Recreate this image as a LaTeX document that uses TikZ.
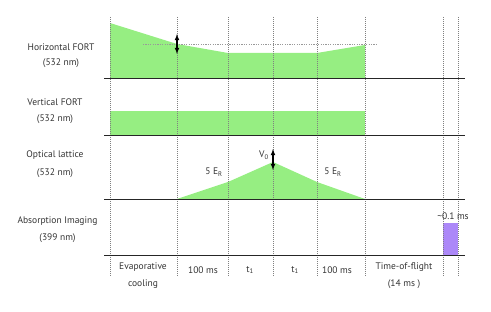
\documentclass[tikz,border=0pt]{standalone}
\usepackage{fontspec}
\setmainfont{PT Sans}
\begin{document}
\begin{tikzpicture}[x=1pt,y=-1pt,
  lbl/.style={inner sep=0pt,text=black!80,font=\fontsize{9.5}{11}\selectfont},
  baseln/.style={draw=black!85,line width=0.8pt},
  tmark/.style={draw=black!50,dash pattern=on 1pt off 1pt,line width=0.6pt},
  fort/.style={fill=fortgreen,draw=none},
  dbl/.style={<->,>=latex,line width=1.1pt,black}]
\definecolor{fortgreen}{RGB}{150,238,130}
\definecolor{imgpurple}{RGB}{172,136,248}
\useasboundingbox (0,0) rectangle (491,312);
% green shapes
\fill[fort] (110,78) -- (110,23) -- (177,44) -- (228,53) -- (317,53) -- (365,45) -- (365,78) -- cycle;
\fill[fort] (110,111) rectangle (365,135);
\fill[fort] (177,199) -- (228,182) -- (273,162) -- (317,182) -- (365,199) -- cycle;
\fill[imgpurple] (443,223) rectangle (458,255);
% time marks
\foreach \x/\n in {110/a,177/b,228/c,273/d,317/e,365/f,443/g,458/h}{
  \coordinate (top\n) at (\x,17);
  \coordinate (bot\n) at (\x,276);
  \draw[tmark] (top\n) -- (bot\n);
}
% baselines
\foreach \y/\n in {78/1,135/2,199/3,255/4}{
  \coordinate (L\n) at (104,\y);
  \coordinate (R\n) at (465,\y);
  \draw[baseln] (L\n) -- (R\n);
}
% dotted level line
\coordinate (lvA) at (143,44.5);
\coordinate (lvB) at (377,44.5);
\draw[draw=black!40,dash pattern=on 1.2pt off 1.2pt,line width=1pt] (lvA) -- (lvB);
% arrows
\coordinate (arA1) at (177,34);
\coordinate (arA2) at (177,54);
\draw[dbl] (arA1) -- (arA2);
\coordinate (arB1) at (273,149);
\coordinate (arB2) at (273,170);
\draw[dbl] (arB1) -- (arB2);
% left labels
\node[lbl] (hf1) at (61,47) {Horizontal FORT};
\node[lbl] (hf2) at (61,63.5) {(532 nm)};
\node[lbl] (vf1) at (55,102.5) {Vertical FORT};
\node[lbl] (vf2) at (55,119.5) {(532 nm)};
\node[lbl] (ol1) at (55,155.5) {Optical lattice};
\node[lbl] (ol2) at (55,173) {(532 nm)};
\node[lbl] (ai1) at (57.5,221) {Absorption Imaging};
\node[lbl] (ai2) at (57.5,238) {(399 nm)};
% in-plot labels
\node[lbl] (v0) at (264,155) {V\textsubscript{0}};
\node[lbl] (er1) at (214,172) {5 E\textsubscript{R}};
\node[lbl] (er2) at (333,172) {5 E\textsubscript{R}};
\node[lbl] (img) at (453,216) {\textasciitilde0.1 ms};
% bottom labels
\node[lbl] (ev1) at (143,267.5) {Evaporative};
\node[lbl] (ev2) at (143,284.5) {cooling};
\node[lbl] (d1) at (203,270) {100 ms};
\node[lbl] (t1a) at (250,270) {t\textsubscript{1}};
\node[lbl] (t1b) at (295,270) {t\textsubscript{1}};
\node[lbl] (d2) at (337,270) {100 ms};
\node[lbl] (tof1) at (404,267.5) {Time-of-flight};
\node[lbl] (tof2) at (404,284.5) {(14 ms )};
\end{tikzpicture}
\end{document}
